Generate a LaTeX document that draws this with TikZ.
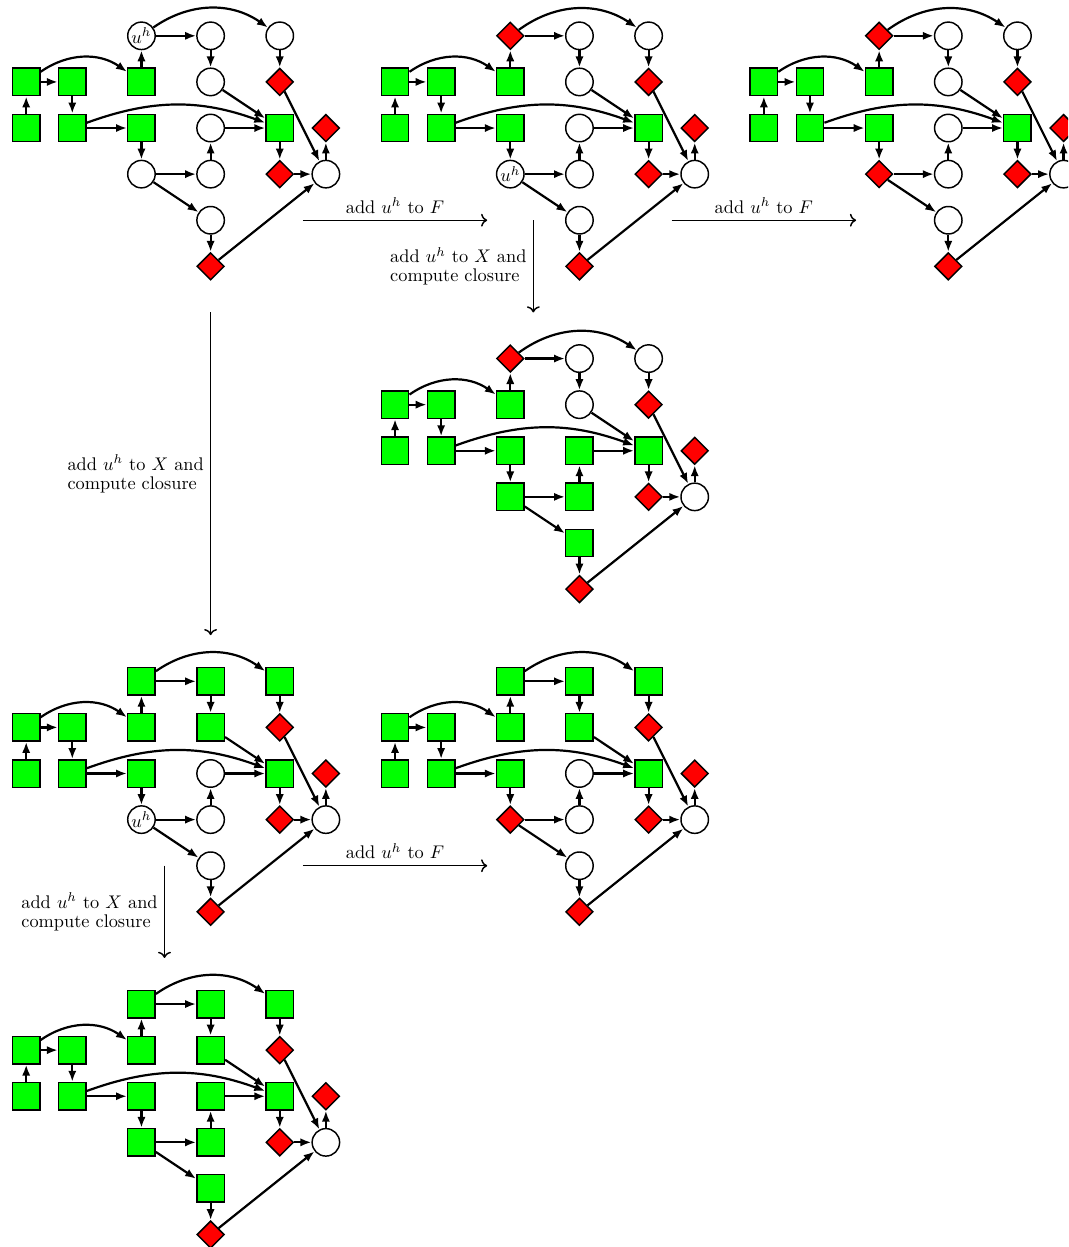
\documentclass[tikz,border=0pt]{standalone}
\usetikzlibrary{shapes.geometric,arrows.meta}

% #1 name, #2 shift, #3 top node, #4 top row, #5 lower node, #6 lower row
\newcommand{\closuregraph}[6]{%
  \begin{scope}[shift={#2}]
    \node[sq] (#1a) at (0,-1) {};
    \node[sq] (#1b) at (1,-1) {};
    \node[sq] (#1c) at (2.5,-1) {};
    \node[#3] (#1d) at (2.5,0) {};
    \node[#4] (#1e) at (4,0) {};
    \node[#4] (#1f) at (5.5,0) {};
    \node[#4] (#1g) at (4,-1) {};
    \node[dm] (#1h) at (5.5,-1) {};
    \node[sq] (#1i) at (0,-2) {};
    \node[sq] (#1j) at (1,-2) {};
    \node[sq] (#1k) at (2.5,-2) {};
    \node[#6] (#1l) at (4,-2) {};
    \node[sq] (#1m) at (5.5,-2) {};
    \node[dm] (#1n) at (6.5,-2) {};
    \node[#5] (#1o) at (2.5,-3) {};
    \node[#6] (#1p) at (4,-3) {};
    \node[dm] (#1q) at (5.5,-3) {};
    \node[ci] (#1r) at (6.5,-3) {};
    \node[#6] (#1s) at (4,-4) {};
    \node[dm] (#1t) at (4,-5) {};
  \end{scope}
  \draw[edge] (#1i) -- (#1a);
  \draw[edge] (#1a) -- (#1b);
  \draw[edge] (#1b) -- (#1j);
  \draw[edge] (#1a) to[bend left=35] (#1c);
  \draw[edge] (#1c) -- (#1d);
  \draw[edge] (#1d) -- (#1e);
  \draw[edge] (#1d) to[bend left=35] (#1f);
  \draw[edge] (#1e) -- (#1g);
  \draw[edge] (#1f) -- (#1h);
  \draw[edge] (#1g) -- (#1m);
  \draw[edge] (#1j) -- (#1k);
  \draw[edge] (#1j) to[bend left=20] (#1m);
  \draw[edge] (#1l) -- (#1m);
  \draw[edge] (#1h) -- (#1r);
  \draw[edge] (#1m) -- (#1q);
  \draw[edge] (#1q) -- (#1r);
  \draw[edge] (#1r) -- (#1n);
  \draw[edge] (#1k) -- (#1o);
  \draw[edge] (#1o) -- (#1p);
  \draw[edge] (#1p) -- (#1l);
  \draw[edge] (#1o) -- (#1s);
  \draw[edge] (#1s) -- (#1t);
  \draw[edge] (#1t) -- (#1r);
}

\begin{document}
\begin{tikzpicture}[x=0.885cm,y=0.885cm,
    sq/.style={draw,thick,fill=green,minimum size=15pt,inner sep=0pt},
    ci/.style={draw,thick,circle,fill=white,minimum size=15pt,inner sep=0pt},
    dm/.style={draw,thick,diamond,fill=red,minimum size=15pt,inner sep=0pt},
    uh/.style={ci,label={[inner sep=0pt]center:$u^h$}},
    edge/.style={very thick,-{Latex[length=6pt,width=4.5pt]}},
    stepto/.style={thick,->},
    steplabel/.style={font=\fontsize{10}{10.5}\selectfont,align=left}]
    \clip (-0.568,0.777) rectangle (22.60,-26.27);

    \closuregraph{g1}{(0,0)}{uh}{ci}{ci}{ci}
    \closuregraph{g2}{(8,0)}{dm}{ci}{uh}{ci}
    \closuregraph{g3}{(16,0)}{dm}{ci}{dm}{ci}
    \closuregraph{g4}{(8,-7)}{dm}{ci}{sq}{sq}
    \closuregraph{g5}{(0,-14)}{sq}{sq}{uh}{ci}
    \closuregraph{g6}{(8,-14)}{sq}{sq}{dm}{ci}
    \closuregraph{g7}{(0,-21)}{sq}{sq}{sq}{sq}

    % steps between the graphs
    \coordinate (f1from) at (6,-4);   \coordinate (f1to) at (10,-4);
    \coordinate (f2from) at (14,-4);  \coordinate (f2to) at (18,-4);
    \coordinate (f3from) at (6,-18);  \coordinate (f3to) at (10,-18);
    \coordinate (x1from) at (11,-4);  \coordinate (x1to) at (11,-6);
    \coordinate (x2from) at (4,-6);   \coordinate (x2to) at (4,-13);
    \coordinate (x3from) at (3,-18);  \coordinate (x3to) at (3,-20);

    \draw[stepto] (f1from) -- node[above,steplabel] (f1lab) {add $u^h$ to $F$} (f1to);
    \draw[stepto] (f2from) -- node[above,steplabel] (f2lab) {add $u^h$ to $F$} (f2to);
    \draw[stepto] (f3from) -- node[above,steplabel] (f3lab) {add $u^h$ to $F$} (f3to);
    \draw[stepto] (x1from) -- node[left,steplabel] (x1lab) {add $u^h$ to $X$ and\\compute closure} (x1to);
    \draw[stepto] (x2from) -- node[left,steplabel] (x2lab) {add $u^h$ to $X$ and\\compute closure} (x2to);
    \draw[stepto] (x3from) -- node[left,steplabel] (x3lab) {add $u^h$ to $X$ and\\compute closure} (x3to);
\end{tikzpicture}
\end{document}
